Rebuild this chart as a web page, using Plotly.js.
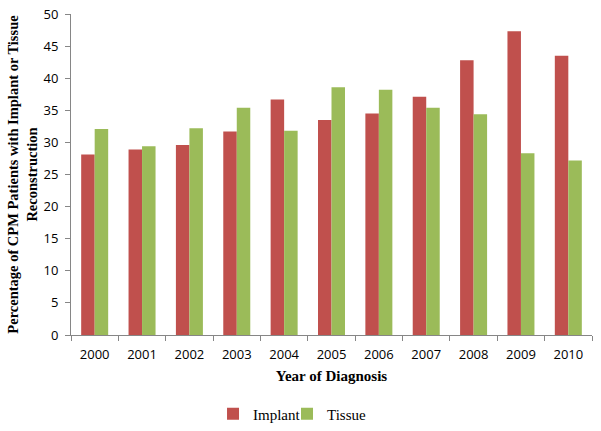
<!DOCTYPE html>
<html>
<head>
<meta charset="utf-8">
<script src="https://cdn.plot.ly/plotly-3.0.1.min.js"></script>
<style>html,body{margin:0;padding:0;background:#fff;}#chart{width:601px;height:431px;}</style>
</head>
<body>
<div id="chart"></div>
<script>
var years = ["2000","2001","2002","2003","2004","2005","2006","2007","2008","2009","2010"];
var implant = [28.1, 28.9, 29.6, 31.7, 36.7, 33.5, 34.5, 37.1, 42.8, 47.3, 43.5];
var tissue = [32.1, 29.4, 32.2, 35.4, 31.8, 38.6, 38.2, 35.4, 34.4, 28.3, 27.2];
var yTicks = [0, 5, 10, 15, 20, 25, 30, 35, 40, 45, 50];

var traces = [
  {type: "bar", name: "Implant", x: years, y: implant, marker: {color: "#C0504D"}, legend: "legend"},
  {type: "bar", name: "Tissue", x: years, y: tissue, marker: {color: "#9BBB59"}, legend: "legend2"}
];

var legFont = {family: "Liberation Serif, Times New Roman, serif", size: 15, color: "#000"};

var layout = {
  width: 601, height: 431,
  margin: {l: 71, r: 9, t: 14, b: 96, autoexpand: false},
  paper_bgcolor: "#fff", plot_bgcolor: "#fff",
  barmode: "group", bargap: 0.43, bargroupgap: 0,
  showlegend: true,
  legend: {x: 0.2726, xanchor: "left", y: -0.246, yanchor: "middle",
           font: legFont, itemwidth: 30, bgcolor: "rgba(0,0,0,0)"},
  legend2: {x: 0.4146, xanchor: "left", y: -0.246, yanchor: "middle",
           font: legFont, itemwidth: 30, bgcolor: "rgba(0,0,0,0)"},
  xaxis: {
    type: "category", range: [-0.5, 10.5], tickson: "boundaries",
    ticks: "outside", ticklen: 5, tickcolor: "#868686",
    showline: true, linecolor: "#868686", linewidth: 1, showgrid: false,
    ticklabelstandoff: 7, tickangle: 0,
    tickfont: {family: "Open Sans, Liberation Sans, sans-serif", size: 13, color: "#000"},
    title: {text: "Year of Diagnosis", standoff: 8,
            font: {family: "Liberation Serif, Times New Roman, serif", size: 15, color: "#000", weight: "bold"}}
  },
  yaxis: {
    range: [0, 50], tickvals: yTicks, ticktext: yTicks.map(String),
    ticks: "outside", ticklen: 5, tickcolor: "#868686",
    showline: true, linecolor: "#868686", linewidth: 1, showgrid: false, zeroline: false,
    ticklabelstandoff: 4,
    tickfont: {family: "Open Sans, Liberation Sans, sans-serif", size: 13, color: "#000"},
    title: {text: "<b>Percentage of CPM Patients with Implant or Tissue<br>Reconstruction</b>", standoff: 2,
            font: {family: "Liberation Serif, Times New Roman, serif", size: 14.5, color: "#000"}}
  }
};

Plotly.newPlot("chart", traces, layout, {displayModeBar: false, staticPlot: true});
</script>
</body>
</html>
